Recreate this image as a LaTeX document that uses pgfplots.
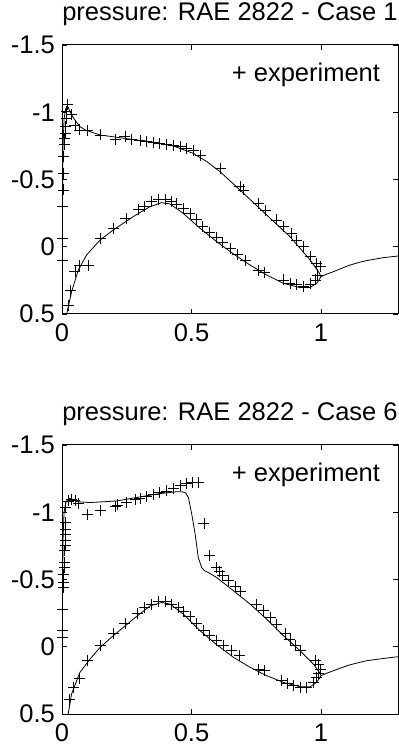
\documentclass[border=0pt]{standalone}
\usepackage{fontspec}
\setmainfont{Liberation Sans}
\usepackage{pgfplots}
\pgfplotsset{compat=1.18}
\newcommand{\bigfont}{\fontsize{25.5bp}{30bp}\selectfont}
\pgfplotsset{
  myax/.style={
    scale only axis, width=336bp, height=269bp,
    xmin=0, xmax=1.297, ymin=-1.5, ymax=0.5, y dir=reverse,
    xtick={0,0.5,1}, xticklabels={0,0.5,1},
    ytick={-1.5,-1,-0.5,0,0.5}, yticklabels={-1.5,-1,-0.5,0,0.5},
    tick align=inside, major tick length=5bp,
    tick style={black, line width=0.6bp},
    axis line style={black, line width=1bp},
    ticklabel style={font=\bigfont, inner sep=0pt},
    xticklabel style={anchor=north, yshift=-9.5bp},
    yticklabel style={anchor=east, xshift=-7bp},
    clip mode=individual,
    title style={font=\bigfont, at={(0.5,1)}, anchor=base, yshift=18.5bp, inner sep=0pt},
  },
  cfd/.style={black, line width=0.8bp, no marks},
  exp/.style={black, only marks, mark=+, mark size=5.5bp, mark options={line width=0.9bp}},
}
\begin{document}
\begin{tikzpicture}[x=1bp,y=1bp]
\useasboundingbox (0,0) rectangle (398,746);
% ---------------- Case 1 ----------------
\begin{axis}[myax, at={(62bp,432bp)}, anchor=south west, title={pressure: RAE 2822 - Case 1}]
\addplot[cfd] coordinates {(0.000,0.6) (0.001,0.1) (0.002,-0.4) (0.004,-0.75) (0.008,-0.95) (0.014,-1.025) (0.022,-1.045) (0.03,-1.01) (0.04,-0.97) (0.05,-0.942) (0.069,-0.893) (0.09,-0.868) (0.108,-0.856) (0.147,-0.831) (0.211,-0.814) (0.27,-0.798) (0.34,-0.781) (0.43,-0.749) (0.507,-0.694) (0.559,-0.633) (0.61,-0.558) (0.687,-0.422) (0.79,-0.236) (0.88,-0.075) (0.958,0.099) (0.99,0.185) (1.0,0.222)};
\addplot[cfd] coordinates {(0.0,0.9) (0.018,0.5) (0.037,0.334) (0.063,0.173) (0.095,0.061) (0.147,-0.05) (0.198,-0.125) (0.275,-0.224) (0.34,-0.298) (0.385,-0.328) (0.417,-0.318) (0.468,-0.248) (0.533,-0.137) (0.597,-0.038) (0.662,0.054) (0.726,0.136) (0.79,0.21) (0.855,0.272) (0.919,0.304) (0.958,0.302) (0.983,0.272) (1.0,0.222)};
\addplot[cfd] coordinates {(1.0,0.222) (1.02,0.205) (1.048,0.185) (1.08,0.16) (1.112,0.136) (1.15,0.115) (1.176,0.103) (1.241,0.081) (1.297,0.069)};
\addplot[exp] coordinates {(0.002,0.099) (0.002,-0.063) (0.003,-0.298) (0.004,-0.422) (0.005,-0.546) (0.006,-0.670) (0.008,-0.757) (0.010,-0.806) (0.012,-0.843) (0.014,-0.893) (0.016,-0.955) (0.018,-1.004) (0.022,-1.061) (0.037,-0.98) (0.050,-0.905) (0.069,-0.868) (0.098,-0.863) (0.147,-0.831) (0.205,-0.794) (0.243,-0.823) (0.269,-0.799) (0.301,-0.789) (0.327,-0.781) (0.353,-0.774) (0.378,-0.769) (0.404,-0.761) (0.430,-0.752) (0.456,-0.744) (0.481,-0.729) (0.507,-0.714) (0.533,-0.682) (0.610,-0.583) (0.687,-0.447) (0.700,-0.422) (0.758,-0.323) (0.784,-0.273) (0.829,-0.199) (0.855,-0.149) (0.887,-0.100) (0.906,-0.050) (0.932,-0.001) (0.958,0.074) (0.983,0.123) (0.996,0.148)};
\addplot[exp] coordinates {(0.024,0.440) (0.033,0.322) (0.050,0.185) (0.069,0.136) (0.102,0.136) (0.147,-0.063) (0.198,-0.137) (0.247,-0.211) (0.295,-0.278) (0.320,-0.298) (0.346,-0.335) (0.372,-0.348) (0.398,-0.348) (0.423,-0.335) (0.443,-0.318) (0.468,-0.286) (0.494,-0.248) (0.520,-0.204) (0.543,-0.154) (0.569,-0.107) (0.595,-0.070) (0.620,-0.033) (0.649,0.012) (0.677,0.054) (0.707,0.099) (0.758,0.178) (0.780,0.193) (0.855,0.247) (0.880,0.272) (0.906,0.284) (0.932,0.292) (0.958,0.277) (0.977,0.247) (0.986,0.210)};
\node[anchor=base west, inner sep=0pt, font=\bigfont] at (axis description cs:0.505,0.866) {+ experiment};
\end{axis}
% ---------------- Case 6 ----------------
\begin{axis}[myax, at={(62bp,32bp)}, anchor=south west, title={pressure: RAE 2822 - Case 6}]
\addplot[cfd] coordinates {(0.0,0.6) (0.001,0.1) (0.002,-0.4) (0.004,-0.8) (0.008,-1.0) (0.013,-1.06) (0.018,-1.084) (0.025,-1.1) (0.031,-1.104) (0.04,-1.095) (0.057,-1.079) (0.108,-1.072) (0.211,-1.084) (0.301,-1.114) (0.378,-1.139) (0.44,-1.152) (0.465,-1.152) (0.478,-1.142) (0.488,-1.109) (0.501,-0.985) (0.514,-0.837) (0.526,-0.663) (0.539,-0.589) (0.55,-0.565) (0.565,-0.552) (0.597,-0.515) (0.662,-0.416) (0.726,-0.317) (0.79,-0.205) (0.855,-0.082) (0.919,0.03) (0.97,0.129) (0.994,0.191) (1.0,0.215)};
\addplot[cfd] coordinates {(0.0,0.9) (0.024,0.5) (0.037,0.351) (0.069,0.191) (0.108,0.092) (0.147,0.005) (0.198,-0.082) (0.275,-0.205) (0.34,-0.304) (0.385,-0.329) (0.417,-0.317) (0.468,-0.243) (0.533,-0.119) (0.597,-0.015) (0.662,0.079) (0.726,0.153) (0.79,0.215) (0.855,0.265) (0.919,0.297) (0.958,0.297) (0.983,0.265) (1.0,0.215)};
\addplot[cfd] coordinates {(1.0,0.215) (1.02,0.198) (1.048,0.178) (1.08,0.155) (1.112,0.134) (1.15,0.116) (1.176,0.104) (1.241,0.087) (1.297,0.074)};
\addplot[exp] coordinates {(0.001,-0.069) (0.001,-0.119) (0.002,-0.280) (0.005,-0.441) (0.005,-0.478) (0.005,-0.540) (0.008,-0.589) (0.008,-0.626) (0.009,-0.713) (0.012,-0.750) (0.012,-0.787) (0.012,-0.837) (0.012,-0.874) (0.014,-0.923) (0.015,-1.035) (0.024,-1.084) (0.037,-1.097) (0.050,-1.089) (0.063,-1.064) (0.098,-0.985) (0.147,-1.010) (0.205,-1.040) (0.214,-1.054) (0.250,-1.072) (0.282,-1.097) (0.301,-1.104) (0.327,-1.114) (0.353,-1.129) (0.378,-1.146) (0.404,-1.158) (0.430,-1.176) (0.456,-1.196) (0.479,-1.213) (0.502,-1.220) (0.526,-1.220) (0.548,-0.916) (0.571,-0.676) (0.595,-0.589) (0.607,-0.559) (0.620,-0.532) (0.642,-0.490) (0.668,-0.446) (0.690,-0.411) (0.752,-0.317) (0.777,-0.267) (0.803,-0.218) (0.829,-0.168) (0.861,-0.099) (0.880,-0.057) (0.900,-0.007) (0.919,0.030) (0.977,0.104) (0.990,0.129) (0.996,0.166)};
\addplot[exp] coordinates {(0.028,0.389) (0.044,0.302) (0.067,0.233) (0.098,0.099) (0.147,-0.007) (0.198,-0.099) (0.243,-0.173) (0.291,-0.248) (0.320,-0.292) (0.346,-0.317) (0.372,-0.334) (0.398,-0.334) (0.423,-0.317) (0.449,-0.292) (0.468,-0.262) (0.494,-0.223) (0.520,-0.173) (0.546,-0.124) (0.571,-0.082) (0.597,-0.045) (0.623,-0.007) (0.655,0.030) (0.685,0.067) (0.758,0.166) (0.780,0.178) (0.848,0.252) (0.870,0.272) (0.893,0.290) (0.919,0.302) (0.945,0.302) (0.970,0.265) (0.983,0.228) (0.990,0.198)};
\node[anchor=base west, inner sep=0pt, font=\bigfont] at (axis description cs:0.505,0.866) {+ experiment};
\end{axis}
\end{tikzpicture}
\end{document}
